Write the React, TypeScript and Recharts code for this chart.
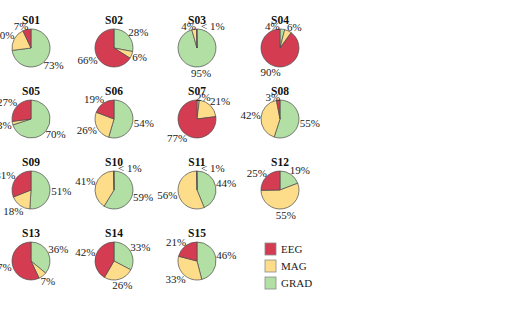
import React from 'react';
import { PieChart, Pie, Cell, Customized } from 'recharts';

const subjects = ['S01', 'S02', 'S03', 'S04', 'S05', 'S06', 'S07', 'S08', 'S09', 'S10', 'S11', 'S12', 'S13', 'S14', 'S15'];
// percentages per sensor type (values < 1 are shown as "< 1%")
const gradPct = [73, 28, 95, 4, 70, 54, 2, 55, 51, 59, 44, 19, 36, 33, 46];
const magPct = [20, 6, 4, 6, 3, 26, 21, 42, 18, 41, 56, 55, 7, 26, 33];
const eegPct = [7, 66, 0.4, 90, 27, 19, 77, 3, 31, 0.4, 0.4, 25, 57, 42, 21];

const legendOrder = ['EEG', 'MAG', 'GRAD'];
const colors: Record<string, string> = { EEG: '#d43d51', MAG: '#fedd8a', GRAD: '#b1dfa4' };

const FONT = '"Liberation Serif", "Times New Roman", serif';
const R = 19;
const colX = (c: number) => 31 + c * 83;
const rowY = (r: number) => 48 + r * 71;

const pies = subjects.map((s, i) => ({
  name: s,
  data: [
    { name: 'GRAD', value: gradPct[i] },
    { name: 'MAG', value: magPct[i] },
    { name: 'EEG', value: eegPct[i] },
  ],
}));

// clockwise angle from 12 o'clock, -180..180
const midAngles = (data: { value: number }[]) => {
  const total = data.reduce((a, d) => a + d.value, 0);
  let acc = 0;
  return data.map((d) => {
    let t = ((acc + d.value / 2) / total) * 360;
    acc += d.value;
    if (t > 180) t -= 360;
    return t;
  });
};

// two labels crowding the top on one side: move the inner one across
const shouldFlip = (data: { value: number }[], idx: number) => {
  const th = midAngles(data);
  const t = th[idx];
  if (data[idx].value < 1 || Math.abs(t) > 30) return false;
  return data.some((d, j) => j !== idx && d.value >= 1 && Math.abs(th[j]) < 30 && Math.sign(th[j]) === Math.sign(t) && Math.abs(th[j]) > Math.abs(t));
};

const makeLabel = (data: { value: number }[]) => (props: any) => {
  const { cx, cy, outerRadius, value, index } = props;
  if (value < 1) {
    return (
      <text x={cx + 4} y={cy - outerRadius - 3} textAnchor="start" dominantBaseline="central" fontSize={11} fontFamily={FONT} fill="#222">
        {'< 1%'}
      </text>
    );
  }
  let t = midAngles(data)[index];
  if (shouldFlip(data, index)) t = -t;
  const rad = (t * Math.PI) / 180;
  const dx = Math.sin(rad);
  const dy = -Math.cos(rad);
  const txt = `${value}%`;
  const w = txt.length * 5.6;
  const px = cx + dx * outerRadius * 1.15;
  const py = cy + dy * outerRadius * 1.15;
  const x = dy < 0 ? px + Math.sign(dx) * (w / 2) * 0.9 : px + (dx * w) / 2;
  const y = dy < 0 ? py - 3 * Math.abs(dx) : py + dy * 3.5;
  return (
    <text x={x} y={y} textAnchor="middle" dominantBaseline="central" fontSize={11} fontFamily={FONT} fill="#222">
      {txt}
    </text>
  );
};

const Titles = () => (
  <g>
    {pies.map((p, i) => (
      <text key={p.name} x={colX(i % 4)} y={rowY(Math.floor(i / 4)) - 28} textAnchor="middle" dominantBaseline="central" fontSize={11.5} fontWeight="bold" fontFamily={FONT} fill="#111">
        {p.name}
      </text>
    ))}
  </g>
);

const SensorLegend = () => (
  <g>
    {legendOrder.map((n, k) => (
      <g key={n}>
        <rect x={265} y={243 + k * 17} width={11} height={12} fill={colors[n]} stroke="#8a8a8a" strokeWidth={0.8} />
        <text x={281} y={249 + k * 17} dominantBaseline="central" fontSize={11} fontFamily={FONT} fill="#222">
          {n}
        </text>
      </g>
    ))}
  </g>
);

export default function App() {
  return (
    <div style={{ position: 'absolute', left: 0, top: 0, width: 515, height: 315, background: '#fff' }}>
      <PieChart width={515} height={315} margin={{ top: 0, right: 0, bottom: 0, left: 0 }}>
        {pies.map((p, i) => (
          <Pie
            key={p.name}
            data={p.data}
            dataKey="value"
            nameKey="name"
            cx={colX(i % 4)}
            cy={rowY(Math.floor(i / 4))}
            outerRadius={R}
            startAngle={90}
            endAngle={-270}
            stroke="#4a4a4a"
            strokeWidth={0.7}
            labelLine={false}
            label={makeLabel(p.data)}
            isAnimationActive={false}
          >
            {p.data.map((d) => (
              <Cell key={d.name} fill={colors[d.name]} />
            ))}
          </Pie>
        ))}
        <Customized component={Titles} />
        <Customized component={SensorLegend} />
      </PieChart>
    </div>
  );
}
